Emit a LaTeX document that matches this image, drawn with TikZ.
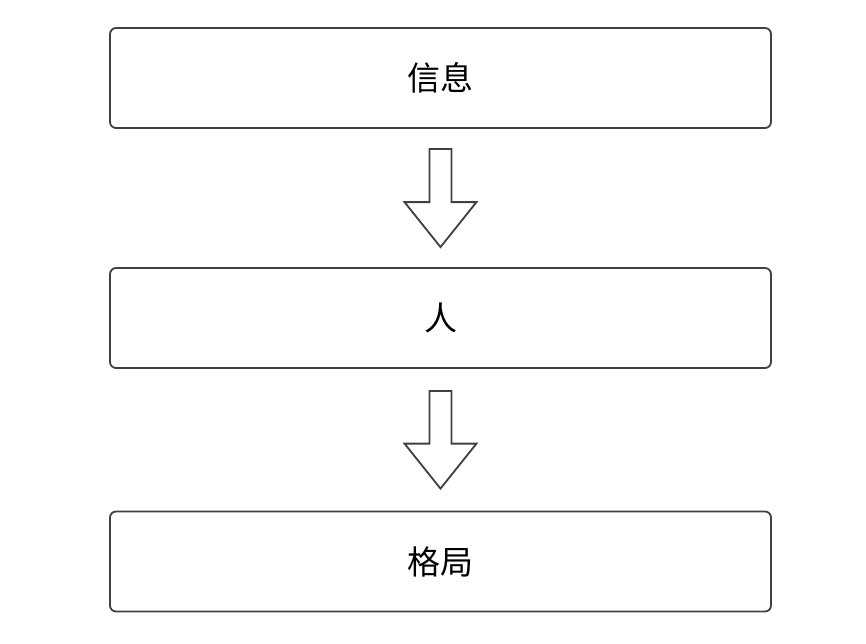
\documentclass[tikz,border=0pt]{standalone}
\usepackage{fontspec}
\newfontfamily\cjk{Noto Sans CJK SC}
\usetikzlibrary{calc}
\begin{document}
\begin{tikzpicture}[x=1pt,y=-1pt,
  box/.style={draw=black!75, line width=1.8pt, rounded corners=6pt,
    minimum width=661pt, minimum height=100pt, inner sep=0pt,
    font=\cjk\fontsize{33}{36}\selectfont},
  arr/.style={draw=black!75, line width=1.8pt, fill=white, line join=miter}]
\useasboundingbox (0,0) rectangle (866,643);
\node[box] (a) at (440.5,78) {信息};
\node[box] (b) at (440.5,318) {人};
\node[box] (c) at (440.5,561.5) {格局};
\foreach \s/\t/\g in {a/b/20,b/c/22}{
  \draw[arr] let \p1=($(\s.south)+(0,\g)$), \p2=($(\t.north)+(0,-\g)$) in
    (\x1-11pt,\y1) -- (\x1+11pt,\y1) -- (\x1+11pt,\y2+45pt) -- (\x1+36pt,\y2+45pt)
    -- (\x1,\y2) -- (\x1-36pt,\y2+45pt) -- (\x1-11pt,\y2+45pt) -- cycle;
}
\end{tikzpicture}
\end{document}
